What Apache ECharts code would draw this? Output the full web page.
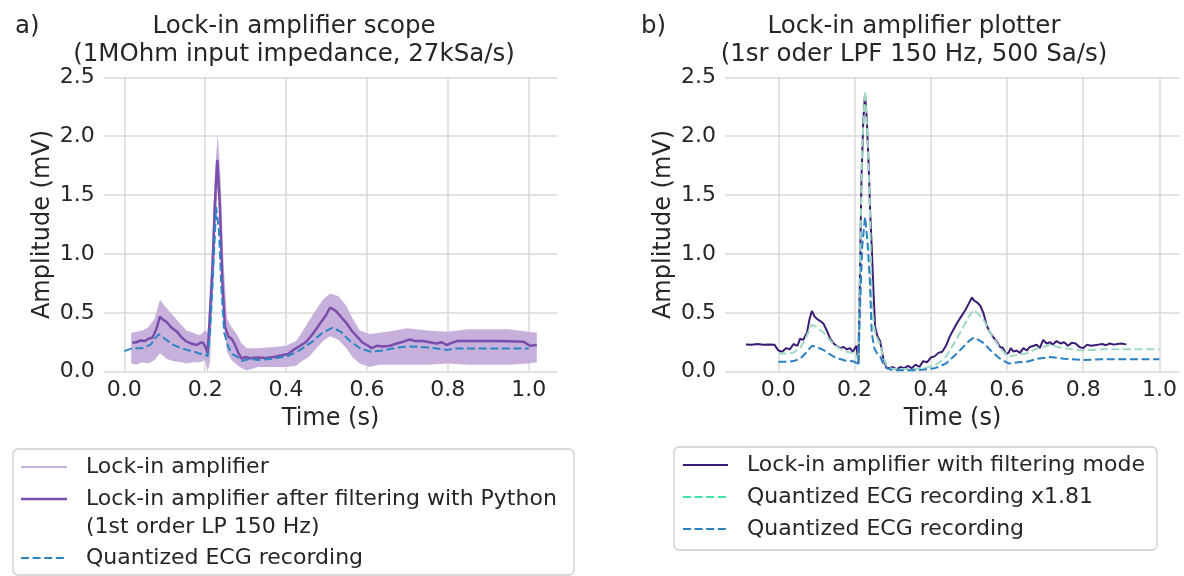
<!DOCTYPE html>
<html><head><meta charset="utf-8">
<script src="https://cdn.jsdelivr.net/npm/echarts@6/dist/echarts.min.js"></script>
<style>html,body{margin:0;padding:0;background:#fff}#c{width:1184px;height:576px}</style>
</head><body><div id="c"></div>
<script>
const FONT = 'DejaVu Sans';
const TXT = '#262626';

// ---------- tick labels ----------
const xTicks = [0, 0.2, 0.4, 0.6, 0.8, 1.0];

// ---------- panel a) ----------
// raw lock-in amplifier (noisy band: lower / upper envelope)
const aBandT = [0.017,0.03,0.045,0.06,0.075,0.088,0.104,0.12,0.14,0.154,0.17,0.187,0.2,0.206,0.212,0.218,0.224,0.231,0.238,0.245,0.254,0.265,0.278,0.29,0.303,0.33,0.37,0.4,0.425,0.44,0.458,0.475,0.491,0.509,0.53,0.549,0.565,0.582,0.607,0.63,0.65,0.7,0.75,0.8,0.85,0.9,0.95,1.0,1.02];
const aBandUpper = [0.33,0.34,0.35,0.38,0.45,0.61,0.54,0.48,0.40,0.35,0.33,0.31,0.35,0.33,0.75,1.15,1.70,2.01,1.65,0.95,0.45,0.38,0.32,0.24,0.20,0.20,0.21,0.22,0.26,0.34,0.44,0.53,0.61,0.665,0.64,0.56,0.45,0.35,0.32,0.33,0.34,0.37,0.35,0.34,0.36,0.36,0.36,0.34,0.33];
const aBandLower = [0.07,0.06,0.08,0.07,0.10,0.156,0.11,0.09,0.08,0.07,0.08,0.08,0.10,0.00,0.08,0.60,1.15,1.55,1.15,0.45,0.17,0.10,0.06,0.03,0.01,0.04,0.04,0.04,0.05,0.09,0.13,0.20,0.26,0.30,0.27,0.20,0.12,0.07,0.04,0.06,0.06,0.06,0.06,0.07,0.06,0.06,0.06,0.07,0.08];

// lock-in amplifier after python filtering
const aFiltT = [0.02,0.03,0.04,0.05,0.06,0.07,0.08,0.088,0.096,0.104,0.115,0.13,0.142,0.154,0.165,0.179,0.188,0.195,0.202,0.206,0.212,0.218,0.224,0.23,0.236,0.243,0.249,0.257,0.265,0.272,0.282,0.29,0.3,0.31,0.33,0.35,0.37,0.39,0.405,0.418,0.435,0.45,0.468,0.484,0.497,0.509,0.517,0.525,0.537,0.55,0.562,0.575,0.588,0.6,0.612,0.624,0.64,0.657,0.674,0.69,0.706,0.72,0.739,0.755,0.772,0.785,0.797,0.81,0.822,0.85,0.88,0.92,0.95,0.987,1.003,1.02];
const aFiltV = [0.245,0.25,0.265,0.26,0.28,0.29,0.37,0.467,0.44,0.424,0.38,0.34,0.29,0.255,0.24,0.227,0.245,0.246,0.20,0.155,0.50,0.86,1.43,1.80,1.43,0.72,0.38,0.30,0.28,0.24,0.16,0.11,0.125,0.115,0.12,0.116,0.125,0.14,0.15,0.185,0.22,0.255,0.33,0.41,0.47,0.545,0.53,0.51,0.46,0.41,0.35,0.30,0.25,0.227,0.20,0.22,0.215,0.22,0.24,0.255,0.274,0.26,0.26,0.25,0.24,0.25,0.227,0.245,0.26,0.26,0.26,0.26,0.258,0.255,0.22,0.227];

// quantized ECG recording (panel a)
const aEcgT = [0.0,0.02,0.045,0.065,0.085,0.1,0.12,0.14,0.155,0.17,0.185,0.2,0.206,0.212,0.218,0.227,0.234,0.24,0.247,0.257,0.267,0.278,0.29,0.31,0.33,0.35,0.37,0.39,0.41,0.435,0.465,0.49,0.515,0.535,0.56,0.585,0.61,0.64,0.675,0.705,0.755,0.8,0.82,1.0];
const aEcgV = [0.175,0.2,0.2,0.23,0.32,0.28,0.23,0.2,0.185,0.175,0.155,0.145,0.13,0.35,0.72,1.40,1.20,0.72,0.33,0.21,0.15,0.13,0.09,0.11,0.10,0.105,0.11,0.125,0.14,0.185,0.255,0.33,0.375,0.34,0.255,0.195,0.17,0.18,0.205,0.215,0.205,0.185,0.198,0.198];

// ---------- panel b) ----------
const bLockT = [-0.085,-0.07,-0.055,-0.04,-0.025,-0.01,0.0,0.01,0.02,0.03,0.04,0.05,0.057,0.065,0.075,0.082,0.088,0.095,0.101,0.11,0.118,0.127,0.136,0.145,0.153,0.162,0.171,0.18,0.188,0.195,0.2,0.205,0.21,0.214,0.218,0.223,0.2275,0.232,0.237,0.241,0.245,0.25,0.254,0.26,0.267,0.275,0.284,0.29,0.3,0.31,0.32,0.33,0.34,0.35,0.36,0.37,0.38,0.39,0.4,0.41,0.42,0.43,0.44,0.45,0.46,0.47,0.48,0.49,0.5,0.508,0.515,0.521,0.53,0.538,0.547,0.556,0.565,0.574,0.582,0.59,0.597,0.604,0.61,0.617,0.625,0.634,0.643,0.652,0.66,0.67,0.678,0.686,0.695,0.704,0.713,0.72,0.73,0.74,0.75,0.76,0.77,0.78,0.79,0.8,0.81,0.82,0.83,0.84,0.85,0.86,0.87,0.88,0.89,0.9,0.913];
const bLockV = [0.232,0.228,0.235,0.228,0.232,0.228,0.18,0.17,0.2,0.19,0.235,0.22,0.28,0.27,0.33,0.45,0.515,0.47,0.45,0.43,0.41,0.35,0.28,0.24,0.22,0.2,0.21,0.19,0.2,0.17,0.16,0.22,0.07,0.78,1.63,2.14,2.36,2.15,1.75,1.35,1.06,0.65,0.38,0.30,0.26,0.12,0.03,0.03,0.04,0.02,0.04,0.03,0.05,0.03,0.06,0.04,0.09,0.08,0.12,0.13,0.16,0.17,0.22,0.30,0.36,0.42,0.47,0.52,0.58,0.63,0.60,0.59,0.56,0.50,0.39,0.33,0.29,0.25,0.21,0.20,0.15,0.16,0.20,0.17,0.18,0.16,0.20,0.18,0.21,0.22,0.23,0.20,0.27,0.24,0.25,0.23,0.26,0.24,0.25,0.22,0.245,0.24,0.21,0.20,0.23,0.22,0.225,0.23,0.235,0.225,0.24,0.23,0.235,0.24,0.232];

const bEcgT = [0.0,0.02,0.04,0.057,0.07,0.08,0.088,0.1,0.118,0.13,0.144,0.16,0.175,0.19,0.2,0.206,0.21,0.214,0.22,0.2275,0.234,0.24,0.245,0.252,0.258,0.267,0.275,0.284,0.3,0.33,0.36,0.39,0.41,0.42,0.44,0.45,0.47,0.485,0.5,0.513,0.525,0.54,0.56,0.582,0.604,0.63,0.652,0.68,0.713,0.75,0.8,0.85,0.9,1.0];
const bEcgV = [0.085,0.085,0.09,0.11,0.15,0.19,0.22,0.21,0.185,0.16,0.13,0.11,0.095,0.09,0.085,0.07,0.05,0.5,1.06,1.316,1.1,0.78,0.33,0.2,0.16,0.13,0.07,0.03,0.012,0.012,0.012,0.02,0.03,0.04,0.07,0.1,0.16,0.21,0.26,0.29,0.27,0.24,0.17,0.11,0.07,0.08,0.085,0.11,0.125,0.11,0.1,0.105,0.105,0.105];
const bEcgScaledV = [0.154,0.154,0.163,0.199,0.272,0.344,0.398,0.38,0.335,0.29,0.235,0.199,0.172,0.163,0.154,0.127,0.091,0.905,1.919,2.382,1.991,1.412,0.597,0.362,0.29,0.235,0.127,0.054,0.022,0.022,0.022,0.036,0.054,0.072,0.127,0.181,0.29,0.38,0.471,0.525,0.489,0.434,0.308,0.199,0.127,0.145,0.154,0.199,0.226,0.199,0.181,0.19,0.19,0.19];

// ---------- build ----------
const pairs = (t, v) => t.map((x, i) => [x, v[i]]);
const bandData = aBandT.map((t, i) => [t, aBandLower[i], aBandUpper[i]]);

function xAx(gi, min, max) {
  return {
    type: 'value', gridIndex: gi, min: min, max: max,
    axisLine: { show: false },
    axisTick: { show: false, customValues: xTicks },
    axisLabel: { customValues: xTicks, formatter: v => v.toFixed(1), fontSize: 22, color: TXT, fontFamily: FONT, margin: 8 },
    splitLine: { show: true, lineStyle: { color: '#d9d9d9', width: 1.5 } },
    name: 'Time (s)', nameLocation: 'middle', nameGap: 31,
    nameTextStyle: { fontSize: 24, color: TXT, fontFamily: FONT }
  };
}
function yAx(gi) {
  return {
    type: 'value', gridIndex: gi, min: 0, max: 2.5, interval: 0.5,
    axisLine: { show: false }, axisTick: { show: false },
    axisLabel: { formatter: v => v.toFixed(1), fontSize: 22, color: TXT, fontFamily: FONT, margin: 9 },
    splitLine: { show: true, lineStyle: { color: '#d9d9d9', width: 1.5 } },
    name: 'Amplitude (mV)', nameLocation: 'middle', nameGap: 49,
    nameTextStyle: { fontSize: 24, color: TXT, fontFamily: FONT }
  };
}
const baseLine = { type: 'line', showSymbol: false, symbol: 'none', animation: false, silent: true };

const titleStyle = { fontSize: 24.5, fontWeight: 'normal', color: TXT, fontFamily: FONT, lineHeight: 28 };
const legFont = { fontSize: 22, fontFamily: FONT, fill: TXT, verticalAlign: 'middle', align: 'left' };

function legLine(x1, x2, y, color, w, dash) {
  return { type: 'line', silent: true, shape: { x1: x1, y1: y, x2: x2, y2: y },
    style: { stroke: color, lineWidth: w, lineDash: dash || null } };
}
function legText(x, y, s) {
  return { type: 'text', silent: true, x: x, y: y, style: Object.assign({ text: s }, legFont) };
}

// band polygon drawn through the axis scales
function renderBand(params, api) {
  if (params.dataIndex !== 0) return null;
  const up = bandData.map(d => api.coord([d[0], d[2]]));
  const lo = bandData.map(d => api.coord([d[0], d[1]])).reverse();
  return { type: 'polygon', shape: { points: up.concat(lo) }, style: { fill: '#c8b0dc' }, silent: true };
}

const option = {
  backgroundColor: '#ffffff',
  animation: false,
  title: [
    { text: 'a)', left: 10, top: 8, textStyle: titleStyle },
    { text: 'Lock-in amplifier scope\n(1MOhm input impedance, 27kSa/s)', left: 289, top: 8, textAlign: 'center', textStyle: titleStyle },
    { text: 'b)', left: 636, top: 8, textStyle: titleStyle },
    { text: 'Lock-in amplifier plotter\n(1sr oder LPF 150 Hz, 500 Sa/s)', left: 909, top: 8, textAlign: 'center', textStyle: titleStyle }
  ],
  grid: [
    { left: 103.7, top: 77.3, width: 453.7, height: 294.4 },
    { left: 725, top: 77.3, width: 455, height: 294.4 }
  ],
  xAxis: [xAx(0, -0.051, 1.071), xAx(1, -0.14, 1.054)],
  yAxis: [yAx(0), yAx(1)],
  series: [
    { type: 'custom', name: 'Lock-in amplifier', xAxisIndex: 0, yAxisIndex: 0, renderItem: renderBand,
      data: bandData, encode: { x: 0, y: [1, 2] }, silent: true, animation: false, z: 2 },
    Object.assign({}, baseLine, { name: 'Lock-in amplifier after filtering with Python (1st order LP 150 Hz)', xAxisIndex: 0, yAxisIndex: 0,
      data: pairs(aFiltT, aFiltV), lineStyle: { color: '#7a4dab', width: 2.5 }, z: 3 }),
    Object.assign({}, baseLine, { name: 'Quantized ECG recording', xAxisIndex: 0, yAxisIndex: 0,
      data: pairs(aEcgT, aEcgV), lineStyle: { color: '#2a86c3', width: 2, type: [8, 3.6] }, z: 4 }),
    Object.assign({}, baseLine, { name: 'Lock-in amplifier with filtering mode', xAxisIndex: 1, yAxisIndex: 1,
      data: pairs(bLockT, bLockV), lineStyle: { color: '#3b1c74', width: 2 }, z: 3 }),
    Object.assign({}, baseLine, { name: 'Quantized ECG recording x1.81', xAxisIndex: 1, yAxisIndex: 1,
      data: pairs(bEcgT, bEcgScaledV), lineStyle: { color: '#9fd9c4', width: 2, type: [8, 3.6] }, z: 4 }),
    Object.assign({}, baseLine, { name: 'Quantized ECG recording (b)', xAxisIndex: 1, yAxisIndex: 1,
      data: pairs(bEcgT, bEcgV), lineStyle: { color: '#2a80c1', width: 2, type: [8, 3.6] }, z: 5 })
  ],
  graphic: [
    { type: 'rect', silent: true, shape: { x: 13, y: 449, width: 561, height: 126, r: 5 },
      style: { fill: '#ffffff', stroke: '#cccccc', lineWidth: 1.3 } },
    legLine(21, 67, 467, '#c8b0dc', 2.2),
    legText(86, 467, 'Lock-in amplifier'),
    legLine(21, 67, 499, '#7a4dab', 2.5),
    legText(86, 499, 'Lock-in amplifier after filtering with Python'),
    legText(86, 527, '(1st order LP 150 Hz)'),
    legLine(21, 67, 558, '#2a86c3', 2, [8, 3.6]),
    legText(86, 558, 'Quantized ECG recording'),

    { type: 'rect', silent: true, shape: { x: 674, y: 447, width: 483, height: 103, r: 5 },
      style: { fill: '#ffffff', stroke: '#cccccc', lineWidth: 1.3 } },
    legLine(683, 728, 465, '#3b1c74', 2.2),
    legText(747, 465, 'Lock-in amplifier with filtering mode'),
    legLine(683, 728, 497, '#3ee6a6', 2, [8, 3.6]),
    legText(747, 497, 'Quantized ECG recording x1.81'),
    legLine(683, 728, 529, '#2a80c1', 2, [8, 3.6]),
    legText(747, 529, 'Quantized ECG recording')
  ]
};
const chart = echarts.init(document.getElementById('c'));
chart.setOption(option);
</script>
</body></html>
